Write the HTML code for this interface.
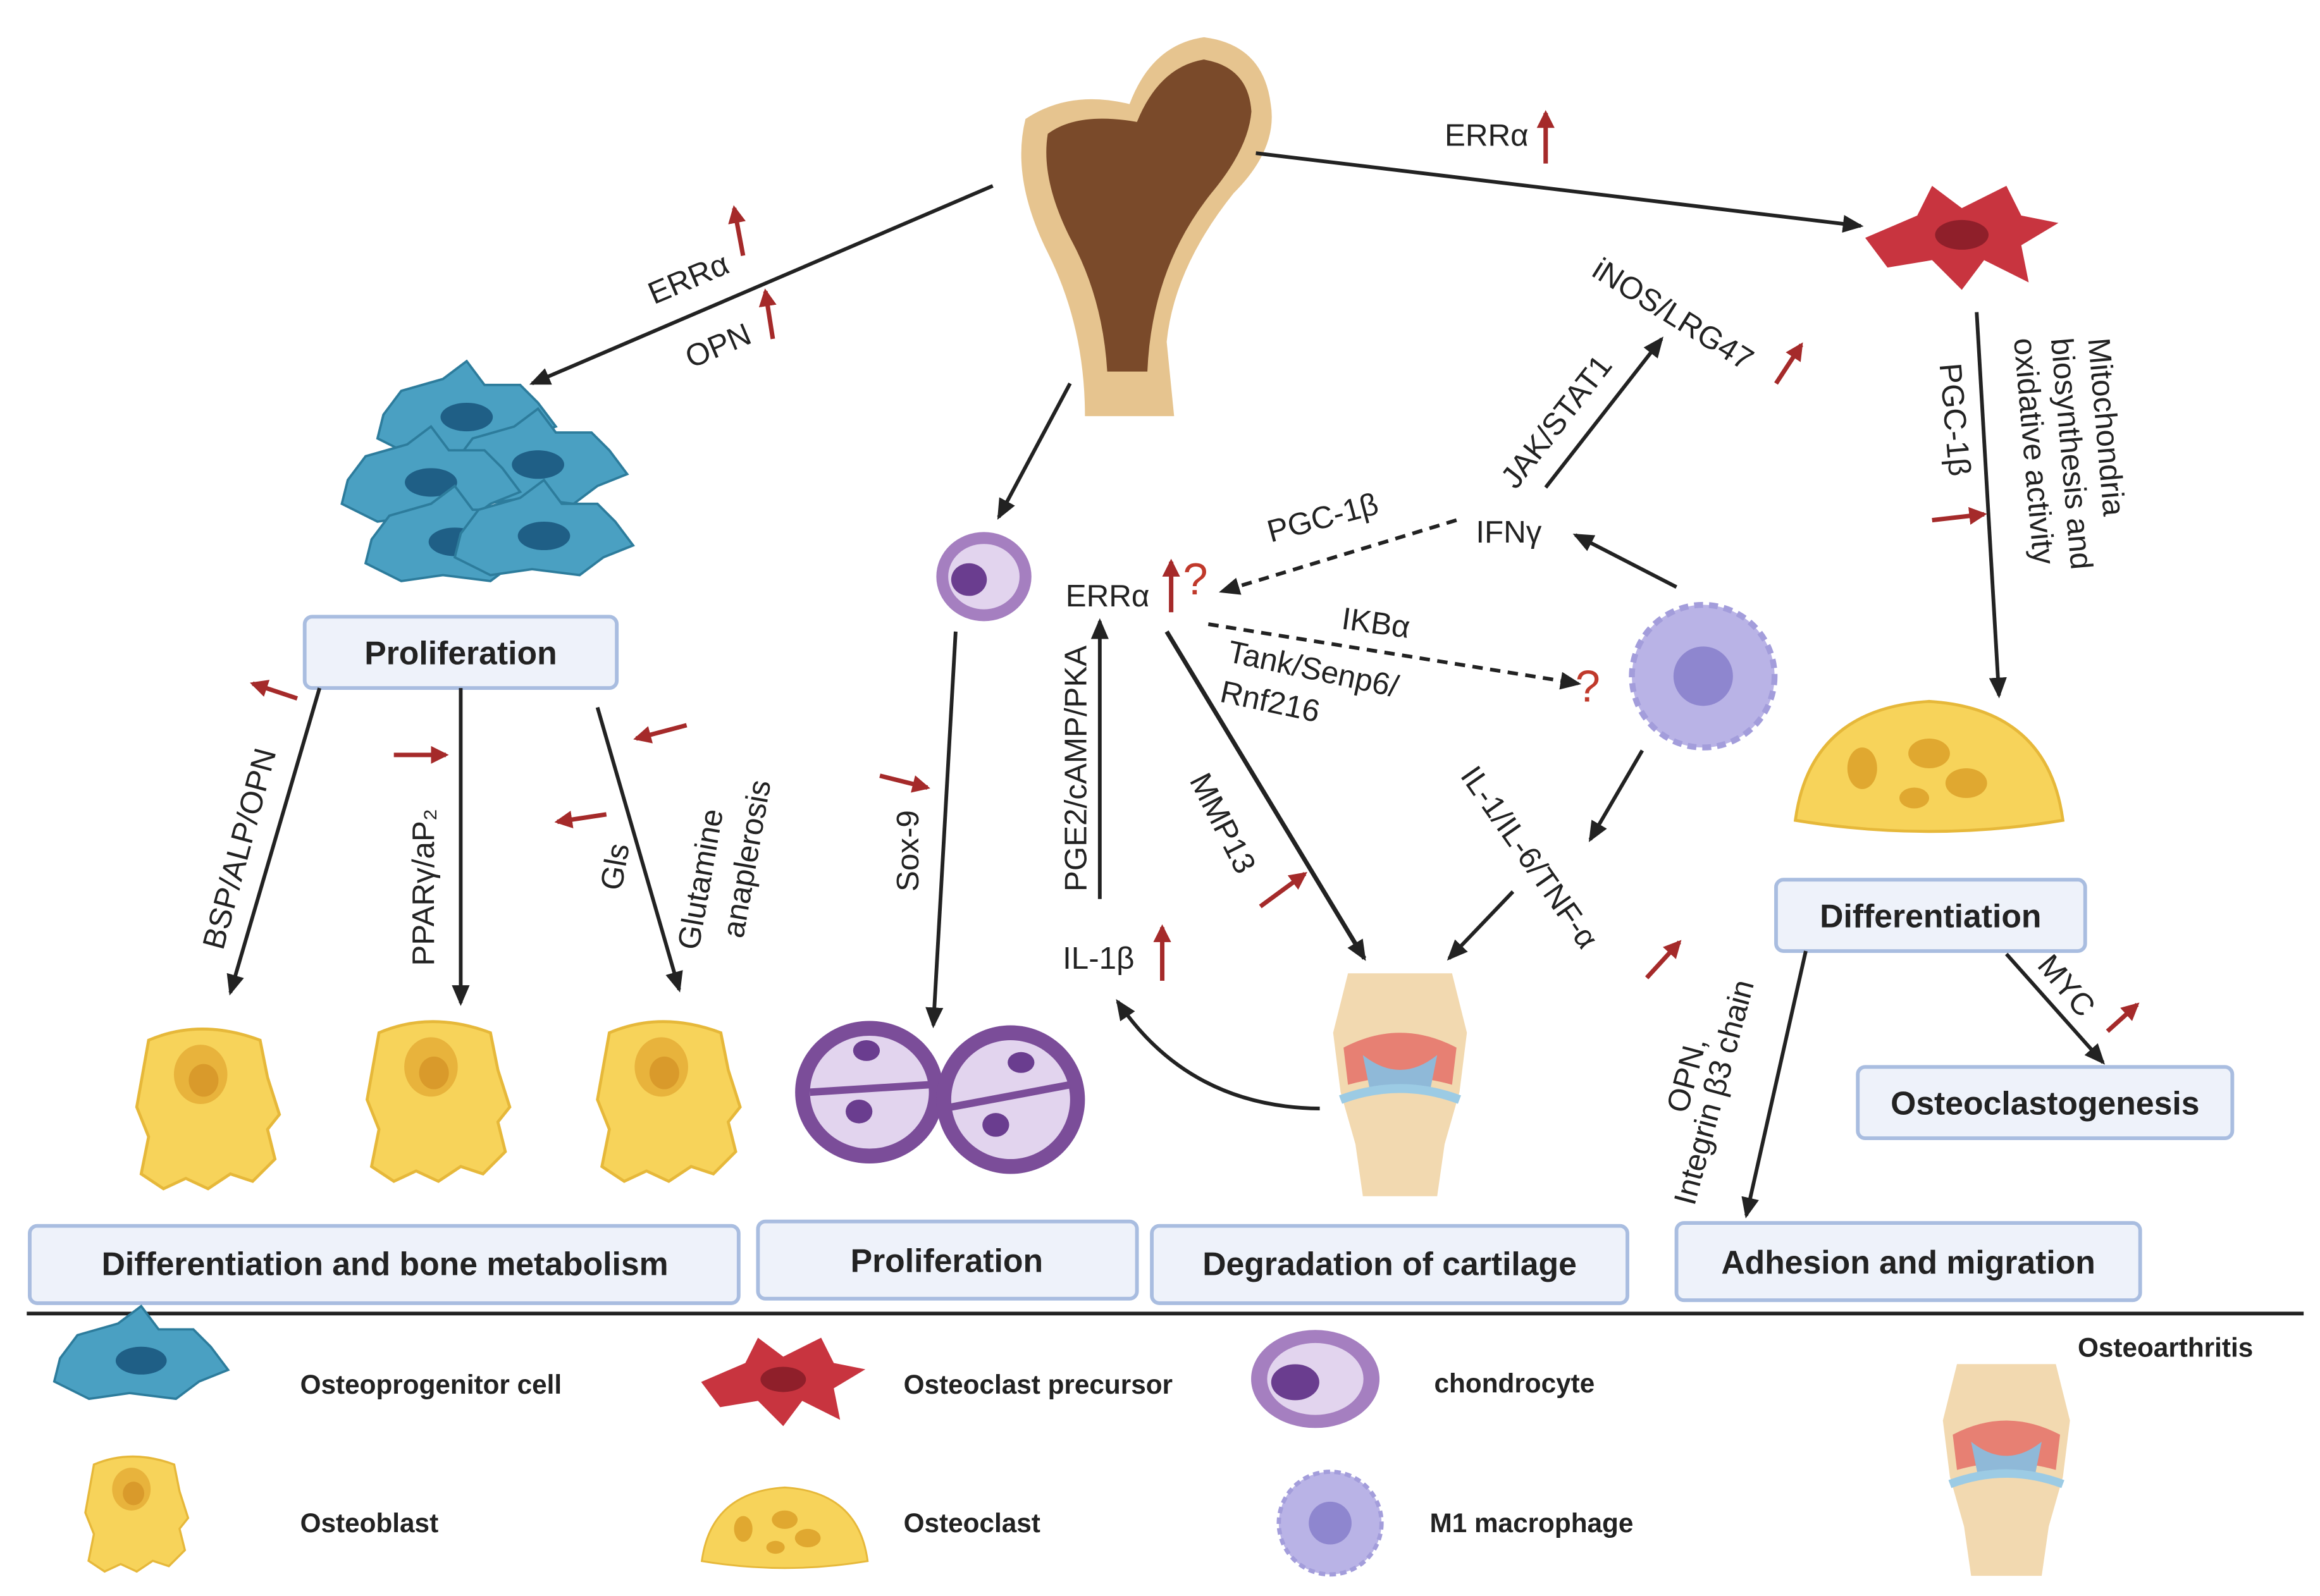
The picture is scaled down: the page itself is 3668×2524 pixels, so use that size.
<!DOCTYPE html>
<html><head><meta charset="utf-8"><style>
html,body{margin:0;padding:0;background:#fff;}
svg{display:block;}
text{font-family:"Liberation Sans",sans-serif;fill:#222;}
.l{font-size:21px;}
.b{font-size:22px;font-weight:bold;}
.lg{font-size:18px;font-weight:bold;}
.box{fill:#eef2fa;stroke:#a9bde0;stroke-width:2.5;}
.ar{stroke:#222;stroke-width:2.5;fill:none;marker-end:url(#ah);}
.da{stroke:#222;stroke-width:2.5;fill:none;stroke-dasharray:7,5;marker-end:url(#ah);}
.ru{stroke:#a52a2a;stroke-width:3;fill:none;marker-end:url(#rh);}
.q{fill:#c0392b;font-size:30px;}
</style></head><body>
<svg width="3668" height="2524" viewBox="0 0 1561 1074" xmlns="http://www.w3.org/2000/svg">
<defs>
<marker id="ah" markerWidth="14" markerHeight="14" refX="12" refY="7" orient="auto" markerUnits="userSpaceOnUse"><path d="M0,1 L14,7 L0,13 z" fill="#222"/></marker>
<marker id="rh" markerWidth="12" markerHeight="12" refX="10" refY="6" orient="auto" markerUnits="userSpaceOnUse"><path d="M0,0 L12,6 L0,12 z" fill="#a52a2a"/></marker>
<g id="ob"><path d="M-40,-45 Q-5,-60 35,-45 L40,-20 L48,5 L40,15 L45,35 L30,50 L15,45 L0,55 L-15,48 L-30,55 L-45,45 L-40,20 L-48,0 z" fill="#f7d35a" stroke="#e6b83a" stroke-width="2"/><ellipse cx="-5" cy="-22" rx="18" ry="20" fill="#e8b33c"/><ellipse cx="-3" cy="-18" rx="10" ry="11" fill="#d99a2b"/></g>
<g id="oc"><path d="M-90,30 Q-80,-45 0,-50 Q80,-45 90,30 Q0,45 -90,30 z" fill="#f7d35a" stroke="#e6b83a" stroke-width="2"/><ellipse cx="-45" cy="-5" rx="10" ry="14" fill="#e0a830"/><ellipse cx="0" cy="-15" rx="14" ry="10" fill="#e0a830"/><ellipse cx="25" cy="5" rx="14" ry="10" fill="#e0a830"/><ellipse cx="-10" cy="15" rx="10" ry="7" fill="#e0a830"/></g>
<g id="bc"><path d="M-70,-5 L-55,-25 L-20,-35 L0,-50 L15,-30 L45,-30 L60,-15 L75,5 L50,15 L30,30 L-10,25 L-45,30 L-75,15 z" fill="#4aa0c2" stroke="#2d7c9c" stroke-width="2"/><ellipse cx="0" cy="-3" rx="22" ry="12" fill="#1f5f86"/></g>
<g id="chon"><ellipse rx="32" ry="30" fill="#a57fc0"/><ellipse rx="24" ry="22" fill="#e2d4ee"/><ellipse cx="-10" cy="2" rx="12" ry="11" fill="#6a3d8f"/></g>
<g id="mac"><circle r="48" fill="#b9b3e6" stroke="#a39ddb" stroke-width="4" stroke-dasharray="6,4"/><circle r="20" fill="#8e86cf"/></g>
<g id="red"><path d="M-65,0 L-30,-15 L-20,-35 L0,-20 L30,-35 L40,-15 L65,-10 L40,5 L45,30 L15,15 L0,35 L-20,15 L-50,20 z" fill="#c8343f"/><ellipse cx="0" cy="-2" rx="18" ry="10" fill="#8f1f2a"/></g>
<g id="knee"><path d="M-35,-60 L35,-60 L45,-20 L40,20 L30,55 L25,90 L-25,90 L-30,55 L-40,20 L-45,-20 z" fill="#f2d9b0"/><path d="M-38,-10 Q0,-30 38,-10 L35,15 Q0,5 -35,15 z" fill="#e25a5a" opacity="0.7"/><path d="M-25,-5 Q0,15 25,-5 L20,20 L-20,20 z" fill="#8fb9d8"/><path d="M-40,25 Q0,10 40,25" stroke="#9ccbe4" stroke-width="6" fill="none"/></g>
</defs>

<!-- bone -->
<path d="M690,80 Q720,60 760,70 Q775,30 810,25 Q850,30 855,70 Q860,100 830,130 Q790,180 785,230 L790,280 L730,280 Q730,220 705,170 Q680,120 690,80 z" fill="#e6c48f"/>
<path d="M705,90 Q725,75 765,82 Q780,45 810,40 Q840,45 842,75 Q840,100 815,130 Q775,180 772,250 L745,250 Q742,200 720,160 Q700,120 705,90 z" fill="#7a4a2a"/>

<!-- top arrows -->
<line x1="668" y1="125" x2="358" y2="258" class="ar"/>
<text class="l" transform="translate(440,205) rotate(-23)">ERRα</text>
<line x1="500" y1="172" x2="494" y2="140" class="ru"/>
<text class="l" transform="translate(465,248) rotate(-23)">OPN</text>
<line x1="520" y1="228" x2="515" y2="196" class="ru"/>
<line x1="845" y1="103" x2="1252" y2="152" class="ar"/>
<text class="l" x="972" y="98">ERRα</text>
<line x1="1040" y1="110" x2="1040" y2="76" class="ru"/>

<use href="#red" x="1320" y="160"/>
<!-- blue cluster -->
<g transform="translate(330,335) scale(0.8) translate(-330,-335)">
<use href="#bc" x="310" y="270"/><use href="#bc" x="370" y="310"/><use href="#bc" x="280" y="325"/><use href="#bc" x="300" y="375"/><use href="#bc" x="375" y="370"/>
</g>

<rect class="box" x="205" y="415" width="210" height="48" rx="5"/>
<text class="b" x="310" y="447" text-anchor="middle">Proliferation</text>

<line x1="215" y1="463" x2="155" y2="668" class="ar"/>
<text class="l" transform="translate(150,640) rotate(-75)">BSP/ALP/OPN</text>
<line x1="200" y1="470" x2="170" y2="460" class="ru"/>
<line x1="310" y1="463" x2="310" y2="675" class="ar"/>
<text class="l" transform="translate(292,650) rotate(-90)">PPARγ/aP₂</text>
<line x1="265" y1="508" x2="300" y2="508" class="ru"/>
<line x1="402" y1="476" x2="457" y2="666" class="ar"/>
<text class="l" transform="translate(418,600) rotate(-80)">Gls</text>
<line x1="408" y1="548" x2="375" y2="553" class="ru"/>
<text class="l" transform="translate(470,640) rotate(-80)">Glutamine</text>
<text class="l" transform="translate(500,632) rotate(-80)">anaplerosis</text>
<line x1="462" y1="488" x2="428" y2="497" class="ru"/>

<use href="#ob" x="140" y="745"/><use href="#ob" x="295" y="740"/><use href="#ob" x="450" y="740"/>

<!-- chondrocyte path -->
<line x1="720" y1="258" x2="672" y2="348" class="ar"/>
<use href="#chon" x="662" y="388"/>
<line x1="643" y1="425" x2="628" y2="690" class="ar"/>
<text class="l" transform="translate(618,600) rotate(-90)">Sox-9</text>
<line x1="592" y1="522" x2="624" y2="530" class="ru"/>
<g><ellipse cx="585" cy="735" rx="50" ry="48" fill="#7b4d99"/><ellipse cx="585" cy="735" rx="40" ry="38" fill="#e2d4ee"/><line x1="545" y1="735" x2="625" y2="730" stroke="#7b4d99" stroke-width="5"/><ellipse cx="583" cy="707" rx="9" ry="7" fill="#6a3d8f"/><ellipse cx="578" cy="748" rx="9" ry="8" fill="#6a3d8f"/>
<ellipse cx="680" cy="740" rx="50" ry="50" fill="#7b4d99"/><ellipse cx="680" cy="740" rx="40" ry="40" fill="#e2d4ee"/><line x1="640" y1="745" x2="720" y2="730" stroke="#7b4d99" stroke-width="5"/><ellipse cx="687" cy="715" rx="9" ry="7" fill="#6a3d8f"/><ellipse cx="670" cy="757" rx="9" ry="8" fill="#6a3d8f"/></g>

<text class="l" x="717" y="408">ERRα</text>
<line x1="788" y1="412" x2="788" y2="378" class="ru"/>
<text class="q" x="796" y="400">?</text>
<line x1="740" y1="605" x2="740" y2="418" class="ar"/>
<text class="l" transform="translate(731,600) rotate(-90)">PGE2/cAMP/PKA</text>
<text class="l" x="715" y="652">IL-1β</text>
<line x1="782" y1="660" x2="782" y2="624" class="ru"/>
<path d="M888,746 Q800,745 752,674" class="ar"/>
<line x1="785" y1="425" x2="918" y2="645" class="ar" style="stroke-width:3"/>
<text class="l" transform="translate(800,525) rotate(63)">MMP13</text>
<line x1="848" y1="610" x2="878" y2="588" class="ru"/>

<line x1="980" y1="350" x2="822" y2="398" class="da"/>
<text class="l" transform="translate(855,365) rotate(-15)">PGC-1β</text>
<line x1="813" y1="420" x2="1062" y2="460" class="da"/>
<text class="l" x="902" y="423" transform="rotate(8 902 423)">IKBα</text>
<text class="l" transform="translate(825,445) rotate(12)">Tank/Senp6/</text>
<text class="l" transform="translate(820,472) rotate(12)">Rnf216</text>
<text class="q" x="1060" y="472">?</text>
<text class="l" x="993" y="365">IFNγ</text>
<line x1="1040" y1="328" x2="1118" y2="228" class="ar"/>
<text class="l" transform="translate(1020,330) rotate(-52)">JAK/STAT1</text>
<text class="l" transform="translate(1070,185) rotate(32)">iNOS/LRG47</text>
<line x1="1195" y1="258" x2="1212" y2="232" class="ru"/>
<use href="#mac" x="1146" y="455"/>
<line x1="1128" y1="395" x2="1060" y2="360" class="ar"/>
<line x1="1105" y1="505" x2="1070" y2="565" class="ar"/>
<text class="l" transform="translate(982,522) rotate(55)">IL-1/IL-6/TNF-α</text>
<line x1="1108" y1="658" x2="1130" y2="634" class="ru"/>
<line x1="1018" y1="600" x2="975" y2="645" class="ar"/>
<use href="#knee" x="942" y="715"/>

<!-- right column -->
<line x1="1330" y1="210" x2="1345" y2="468" class="ar"/>
<text class="l" transform="translate(1305,245) rotate(85)">PGC-1β</text>
<line x1="1300" y1="350" x2="1335" y2="346" class="ru"/>
<text class="l" transform="translate(1405,228) rotate(85)">Mitochondria</text>
<text class="l" transform="translate(1380,228) rotate(85)">biosynthesis and</text>
<text class="l" transform="translate(1355,228) rotate(85)">oxidative activity</text>
<use href="#oc" x="1298" y="522"/>

<rect class="box" x="1195" y="592" width="208" height="48" rx="5"/>
<text class="b" x="1299" y="624" text-anchor="middle">Differentiation</text>
<line x1="1215" y1="640" x2="1175" y2="818" class="ar"/>
<text class="l" transform="translate(1135,750) rotate(-75)">OPN,</text>
<text class="l" transform="translate(1140,812) rotate(-75)">Integrin β3 chain</text>
<line x1="1350" y1="642" x2="1415" y2="715" class="ar"/>
<text class="l" transform="translate(1370,650) rotate(50)">MYC</text>
<line x1="1418" y1="694" x2="1438" y2="676" class="ru"/>
<rect class="box" x="1250" y="718" width="252" height="48" rx="5"/>
<text class="b" x="1376" y="750" text-anchor="middle">Osteoclastogenesis</text>

<!-- bottom boxes -->
<rect class="box" x="20" y="825" width="477" height="52" rx="5"/>
<text class="b" x="259" y="858" text-anchor="middle">Differentiation and bone metabolism</text>
<rect class="box" x="510" y="822" width="255" height="52" rx="5"/>
<text class="b" x="637" y="856" text-anchor="middle">Proliferation</text>
<rect class="box" x="775" y="825" width="320" height="52" rx="5"/>
<text class="b" x="935" y="858" text-anchor="middle">Degradation of cartilage</text>
<rect class="box" x="1128" y="823" width="312" height="52" rx="5"/>
<text class="b" x="1284" y="857" text-anchor="middle">Adhesion and migration</text>

<line x1="18" y1="884" x2="1550" y2="884" stroke="#222" stroke-width="2.5"/>

<!-- legend -->
<use href="#bc" transform="translate(95,918) scale(0.78)"/>
<text class="lg" x="202" y="938">Osteoprogenitor cell</text>
<use href="#red" transform="translate(527,930) scale(0.85)"/>
<text class="lg" x="608" y="938">Osteoclast precursor</text>
<use href="#chon" transform="translate(885,928) scale(1.35,1.1)"/>
<text class="lg" x="965" y="937">chondrocyte</text>
<use href="#knee" transform="translate(1350,975) scale(0.95)"/>
<text class="lg" x="1398" y="913">Osteoarthritis</text>
<use href="#ob" transform="translate(92,1018) scale(0.72)"/>
<text class="lg" x="202" y="1031">Osteoblast</text>
<use href="#oc" transform="translate(528,1032) scale(0.62)"/>
<text class="lg" x="608" y="1031">Osteoclast</text>
<use href="#mac" transform="translate(895,1025) scale(0.72)"/>
<text class="lg" x="962" y="1031">M1 macrophage</text>
</svg>
</body></html>
